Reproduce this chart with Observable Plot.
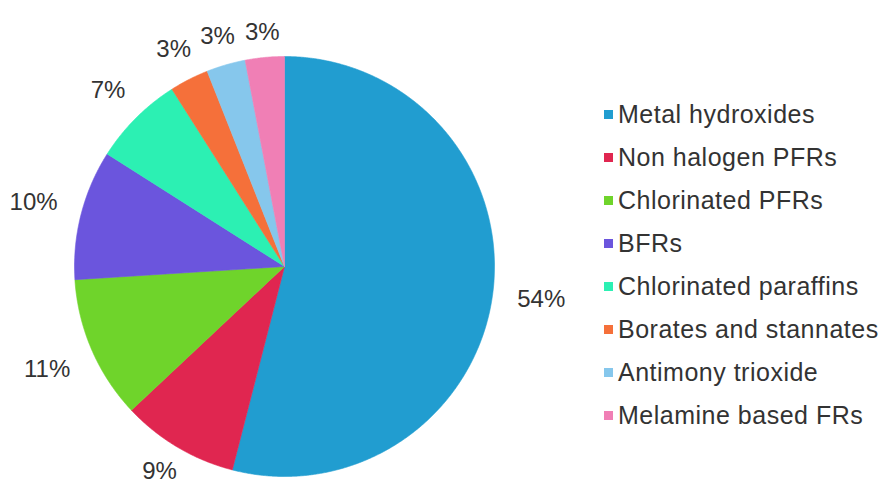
<!DOCTYPE html>
<html><head><meta charset="utf-8">
<script src="https://cdn.jsdelivr.net/npm/d3@7"></script>
<script src="https://cdn.jsdelivr.net/npm/@observablehq/plot@0.6"></script>
<style>
body{margin:0;background:#fff;font-family:"Liberation Sans",Arial,sans-serif;}
#wrap{position:relative;width:882px;height:484px;overflow:hidden;}
#chart{position:absolute;left:0;top:0;}
#legend{position:absolute;left:604px;top:93px;}
.row{display:flex;align-items:center;height:43px;font-size:25px;letter-spacing:0.5px;color:#333;white-space:nowrap;}
.sw{width:9px;height:9px;margin-right:5px;flex:none;}
</style></head><body>
<div id="wrap"><div id="chart"></div><div id="legend"></div></div>
<script>
const categories = ["Metal hydroxides","Non halogen PFRs","Chlorinated PFRs","BFRs","Chlorinated paraffins","Borates and stannates","Antimony trioxide","Melamine based FRs"];
const shares = [54, 9, 11, 10, 7, 3, 3, 3];
const shareLabels = ["54%","9%","11%","10%","7%","3%","3%","3%"];
const colors = ["#219dd0","#e02650","#6fd42b","#6b55dd","#2cf0b3","#f5703a","#86c7ec","#f07fb5"];

// layout constants (pixels)
const W = 560, H = 484, R = 210, CX = 284, CY = 266, FS = 24;

const arcs = d3.pie().sort(null).value(d => d)(shares);

const pts = [];
arcs.forEach((a, i) => {
  const cat = categories[i];
  pts.push({cat, x: 0, y: 0});
  const n = Math.max(2, Math.ceil((a.endAngle - a.startAngle) / 0.005));
  for (let k = 0; k <= n; k++) {
    const t = a.startAngle + (a.endAngle - a.startAngle) * k / n;
    pts.push({cat, x: Math.sin(t), y: Math.cos(t)});
  }
  pts.push({cat, x: 0, y: 0});
});

const yMin = -(H - CY - 13) / R; // keep labels inside the picture
const labelData = arcs.map((a, i) => {
  const m = (a.startAngle + a.endAngle) / 2;
  const s = Math.sin(m), c = Math.cos(m);
  const txt = shareLabels[i];
  const w = FS * (0.556 * (txt.length - 1) + 0.889);
  const h = FS * 0.72;
  const gap = 14 + 10 * Math.abs(s);
  const dist = 1 + (gap + Math.abs(s) * w / 2 + Math.abs(c) * h / 2) / R;
  return {x: s * dist, y: Math.max(yMin, c * dist), text: txt};
});

const chart = Plot.plot({
  width: W, height: H,
  marginTop: 0, marginBottom: 0, marginLeft: 0, marginRight: 0,
  x: {domain: [-CX / R, (W - CX) / R], axis: null},
  y: {domain: [-(H - CY) / R, CY / R], axis: null},
  color: {domain: categories, range: colors},
  style: {fontFamily: "'Liberation Sans', Arial, sans-serif", background: "white", overflow: "visible"},
  marks: [
    Plot.line(pts, {x: "x", y: "y", z: "cat", fill: "cat", stroke: "cat", strokeWidth: 0.6, curve: "linear"}),
    Plot.text(labelData, {x: "x", y: "y", text: "text", fontSize: FS, fill: "#333"})
  ]
});
document.getElementById("chart").appendChild(chart);

const legend = document.getElementById("legend");
categories.forEach((c, i) => {
  const row = document.createElement("div");
  row.className = "row";
  const sw = document.createElement("span");
  sw.className = "sw";
  sw.style.background = colors[i];
  const t = document.createElement("span");
  t.textContent = c;
  row.appendChild(sw); row.appendChild(t);
  legend.appendChild(row);
});
</script>
</body></html>
